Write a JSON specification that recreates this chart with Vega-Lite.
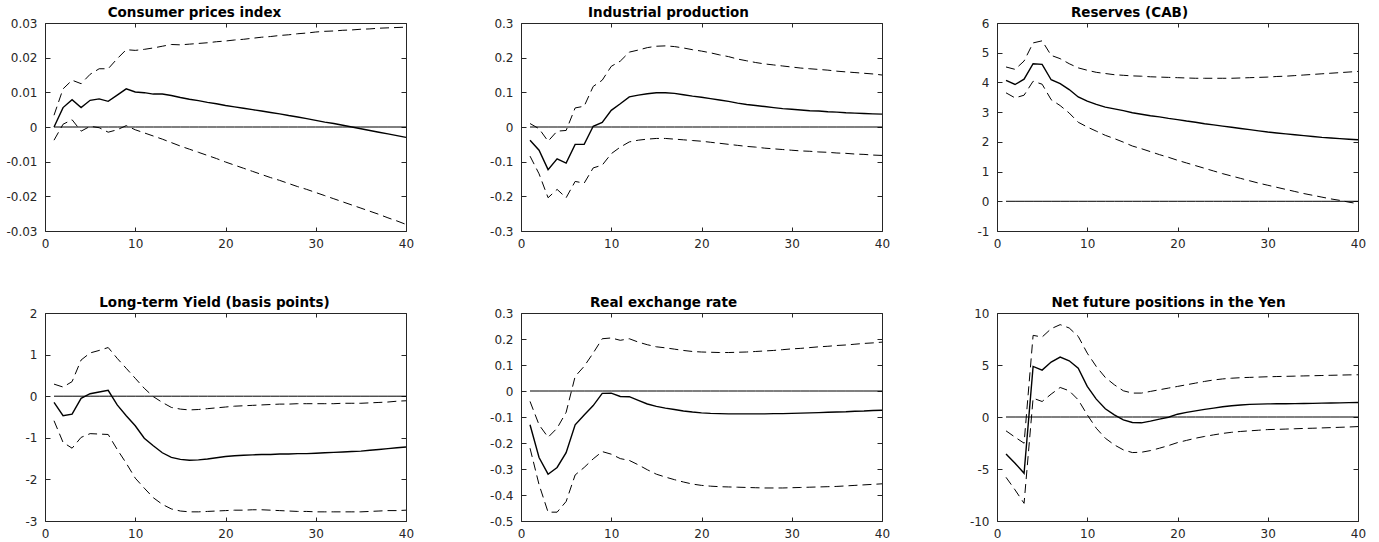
{
"$schema": "https://vega.github.io/schema/vega-lite/v6.json",
"background": "white",
"padding": {"left": 5, "top": 5, "right": 5, "bottom": 5},
"bounds": "flush",
"columns": 3,
"spacing": {"row": 82, "column": 115},
"config": {
  "font": "DejaVu Sans",
  "view": {"stroke": "#262626", "strokeWidth": 1},
  "axis": {"domain": false, "grid": false, "tickColor": "#262626", "labelColor": "#262626", "labelFont": "DejaVu Sans", "labelFontSize": 12, "tickWidth": 1, "labelFlush": false, "labelOverlap": false, "labelExpr": "replace(format(datum.value, '~g'), '\u2212', '-')"},
  "axisX": {"tickSize": -4, "labelPadding": 11},
  "axisY": {"tickSize": -5, "labelPadding": 13},
  "title": {"font": "DejaVu Sans", "fontSize": 13.5, "fontWeight": "bold", "color": "black", "offset": -2, "anchor": "middle"}
},
"datasets": {"irf": [
{"v":"cpi","h":1,"e":0,"lo":-0.0038,"hi":0.0034},
{"v":"cpi","h":2,"e":0.0056,"lo":0.0008,"hi":0.011},
{"v":"cpi","h":3,"e":0.0079,"lo":0.0021,"hi":0.0135},
{"v":"cpi","h":4,"e":0.0056,"lo":-0.0012,"hi":0.0125},
{"v":"cpi","h":5,"e":0.0077,"lo":0.0002,"hi":0.0152},
{"v":"cpi","h":6,"e":0.0081,"lo":-0.0002,"hi":0.0168},
{"v":"cpi","h":7,"e":0.0074,"lo":-0.0015,"hi":0.0168},
{"v":"cpi","h":8,"e":0.0092,"lo":-0.0008,"hi":0.0197},
{"v":"cpi","h":9,"e":0.011,"lo":0.0004,"hi":0.0223},
{"v":"cpi","h":10,"e":0.0101,"lo":-0.0008,"hi":0.0221},
{"v":"cpi","h":11,"e":0.0099,"lo":-0.0017,"hi":0.0224},
{"v":"cpi","h":12,"e":0.0095,"lo":-0.0026,"hi":0.0228},
{"v":"cpi","h":13,"e":0.0095,"lo":-0.0035,"hi":0.0233},
{"v":"cpi","h":14,"e":0.0091,"lo":-0.0045,"hi":0.0238},
{"v":"cpi","h":15,"e":0.0085,"lo":-0.0055,"hi":0.0237},
{"v":"cpi","h":16,"e":0.008,"lo":-0.0064,"hi":0.0239},
{"v":"cpi","h":17,"e":0.0076,"lo":-0.0073,"hi":0.0241},
{"v":"cpi","h":18,"e":0.0071,"lo":-0.0082,"hi":0.0243},
{"v":"cpi","h":19,"e":0.0067,"lo":-0.0091,"hi":0.0246},
{"v":"cpi","h":20,"e":0.0062,"lo":-0.0101,"hi":0.0248},
{"v":"cpi","h":21,"e":0.0058,"lo":-0.011,"hi":0.0251},
{"v":"cpi","h":22,"e":0.0054,"lo":-0.0119,"hi":0.0253},
{"v":"cpi","h":23,"e":0.005,"lo":-0.0128,"hi":0.0256},
{"v":"cpi","h":24,"e":0.0046,"lo":-0.0137,"hi":0.0259},
{"v":"cpi","h":25,"e":0.0042,"lo":-0.0146,"hi":0.0261},
{"v":"cpi","h":26,"e":0.0038,"lo":-0.0154,"hi":0.0264},
{"v":"cpi","h":27,"e":0.0033,"lo":-0.0163,"hi":0.0266},
{"v":"cpi","h":28,"e":0.0029,"lo":-0.0172,"hi":0.0269},
{"v":"cpi","h":29,"e":0.0024,"lo":-0.018,"hi":0.0271},
{"v":"cpi","h":30,"e":0.0019,"lo":-0.0189,"hi":0.0274},
{"v":"cpi","h":31,"e":0.0014,"lo":-0.0198,"hi":0.0276},
{"v":"cpi","h":32,"e":0.001,"lo":-0.0207,"hi":0.0277},
{"v":"cpi","h":33,"e":0.0005,"lo":-0.0216,"hi":0.0279},
{"v":"cpi","h":34,"e":0,"lo":-0.0225,"hi":0.028},
{"v":"cpi","h":35,"e":-0.0005,"lo":-0.0234,"hi":0.0282},
{"v":"cpi","h":36,"e":-0.001,"lo":-0.0243,"hi":0.0283},
{"v":"cpi","h":37,"e":-0.0015,"lo":-0.0252,"hi":0.0285},
{"v":"cpi","h":38,"e":-0.002,"lo":-0.0262,"hi":0.0286},
{"v":"cpi","h":39,"e":-0.0025,"lo":-0.0271,"hi":0.0287},
{"v":"cpi","h":40,"e":-0.003,"lo":-0.0281,"hi":0.0288},
{"v":"ip","h":1,"e":-0.038,"lo":-0.084,"hi":0.01},
{"v":"ip","h":2,"e":-0.067,"lo":-0.135,"hi":-0.005},
{"v":"ip","h":3,"e":-0.123,"lo":-0.204,"hi":-0.041},
{"v":"ip","h":4,"e":-0.092,"lo":-0.18,"hi":-0.012},
{"v":"ip","h":5,"e":-0.104,"lo":-0.204,"hi":-0.01},
{"v":"ip","h":6,"e":-0.05,"lo":-0.157,"hi":0.055},
{"v":"ip","h":7,"e":-0.05,"lo":-0.162,"hi":0.06},
{"v":"ip","h":8,"e":0.002,"lo":-0.118,"hi":0.117},
{"v":"ip","h":9,"e":0.013,"lo":-0.11,"hi":0.135},
{"v":"ip","h":10,"e":0.048,"lo":-0.077,"hi":0.175},
{"v":"ip","h":11,"e":0.067,"lo":-0.058,"hi":0.19},
{"v":"ip","h":12,"e":0.087,"lo":-0.043,"hi":0.216},
{"v":"ip","h":13,"e":0.092,"lo":-0.038,"hi":0.222},
{"v":"ip","h":14,"e":0.096,"lo":-0.035,"hi":0.229},
{"v":"ip","h":15,"e":0.099,"lo":-0.033,"hi":0.233},
{"v":"ip","h":16,"e":0.099,"lo":-0.033,"hi":0.234},
{"v":"ip","h":17,"e":0.097,"lo":-0.035,"hi":0.232},
{"v":"ip","h":18,"e":0.093,"lo":-0.037,"hi":0.228},
{"v":"ip","h":19,"e":0.089,"lo":-0.039,"hi":0.223},
{"v":"ip","h":20,"e":0.086,"lo":-0.041,"hi":0.219},
{"v":"ip","h":21,"e":0.082,"lo":-0.044,"hi":0.214},
{"v":"ip","h":22,"e":0.078,"lo":-0.047,"hi":0.208},
{"v":"ip","h":23,"e":0.074,"lo":-0.05,"hi":0.203},
{"v":"ip","h":24,"e":0.069,"lo":-0.053,"hi":0.196},
{"v":"ip","h":25,"e":0.065,"lo":-0.056,"hi":0.191},
{"v":"ip","h":26,"e":0.062,"lo":-0.058,"hi":0.186},
{"v":"ip","h":27,"e":0.059,"lo":-0.061,"hi":0.182},
{"v":"ip","h":28,"e":0.056,"lo":-0.063,"hi":0.179},
{"v":"ip","h":29,"e":0.053,"lo":-0.065,"hi":0.176},
{"v":"ip","h":30,"e":0.051,"lo":-0.067,"hi":0.173},
{"v":"ip","h":31,"e":0.049,"lo":-0.069,"hi":0.17},
{"v":"ip","h":32,"e":0.047,"lo":-0.07,"hi":0.168},
{"v":"ip","h":33,"e":0.046,"lo":-0.072,"hi":0.166},
{"v":"ip","h":34,"e":0.044,"lo":-0.073,"hi":0.164},
{"v":"ip","h":35,"e":0.043,"lo":-0.075,"hi":0.161},
{"v":"ip","h":36,"e":0.041,"lo":-0.076,"hi":0.159},
{"v":"ip","h":37,"e":0.04,"lo":-0.078,"hi":0.157},
{"v":"ip","h":38,"e":0.039,"lo":-0.079,"hi":0.155},
{"v":"ip","h":39,"e":0.038,"lo":-0.081,"hi":0.153},
{"v":"ip","h":40,"e":0.037,"lo":-0.082,"hi":0.15},
{"v":"res","h":1,"e":4.07,"lo":3.65,"hi":4.52},
{"v":"res","h":2,"e":3.93,"lo":3.48,"hi":4.44},
{"v":"res","h":3,"e":4.11,"lo":3.57,"hi":4.72},
{"v":"res","h":4,"e":4.63,"lo":4.04,"hi":5.33},
{"v":"res","h":5,"e":4.61,"lo":3.94,"hi":5.4},
{"v":"res","h":6,"e":4.09,"lo":3.42,"hi":4.91},
{"v":"res","h":7,"e":3.96,"lo":3.22,"hi":4.8},
{"v":"res","h":8,"e":3.76,"lo":2.97,"hi":4.63},
{"v":"res","h":9,"e":3.51,"lo":2.66,"hi":4.49},
{"v":"res","h":10,"e":3.37,"lo":2.5,"hi":4.41},
{"v":"res","h":11,"e":3.26,"lo":2.36,"hi":4.34},
{"v":"res","h":12,"e":3.17,"lo":2.22,"hi":4.3},
{"v":"res","h":13,"e":3.11,"lo":2.11,"hi":4.26},
{"v":"res","h":14,"e":3.05,"lo":1.99,"hi":4.24},
{"v":"res","h":15,"e":2.98,"lo":1.86,"hi":4.22},
{"v":"res","h":16,"e":2.93,"lo":1.77,"hi":4.21},
{"v":"res","h":17,"e":2.88,"lo":1.67,"hi":4.19},
{"v":"res","h":18,"e":2.84,"lo":1.57,"hi":4.18},
{"v":"res","h":19,"e":2.79,"lo":1.48,"hi":4.17},
{"v":"res","h":20,"e":2.75,"lo":1.38,"hi":4.16},
{"v":"res","h":21,"e":2.7,"lo":1.29,"hi":4.15},
{"v":"res","h":22,"e":2.66,"lo":1.2,"hi":4.14},
{"v":"res","h":23,"e":2.61,"lo":1.11,"hi":4.14},
{"v":"res","h":24,"e":2.57,"lo":1.02,"hi":4.14},
{"v":"res","h":25,"e":2.53,"lo":0.93,"hi":4.14},
{"v":"res","h":26,"e":2.49,"lo":0.85,"hi":4.14},
{"v":"res","h":27,"e":2.45,"lo":0.77,"hi":4.15},
{"v":"res","h":28,"e":2.41,"lo":0.69,"hi":4.16},
{"v":"res","h":29,"e":2.37,"lo":0.61,"hi":4.17},
{"v":"res","h":30,"e":2.33,"lo":0.54,"hi":4.18},
{"v":"res","h":31,"e":2.3,"lo":0.47,"hi":4.2},
{"v":"res","h":32,"e":2.27,"lo":0.4,"hi":4.21},
{"v":"res","h":33,"e":2.24,"lo":0.33,"hi":4.23},
{"v":"res","h":34,"e":2.21,"lo":0.26,"hi":4.25},
{"v":"res","h":35,"e":2.18,"lo":0.2,"hi":4.27},
{"v":"res","h":36,"e":2.15,"lo":0.14,"hi":4.29},
{"v":"res","h":37,"e":2.13,"lo":0.08,"hi":4.31},
{"v":"res","h":38,"e":2.11,"lo":0.03,"hi":4.33},
{"v":"res","h":39,"e":2.09,"lo":-0.03,"hi":4.35},
{"v":"res","h":40,"e":2.07,"lo":-0.08,"hi":4.37},
{"v":"lty","h":1,"e":-0.15,"lo":-0.59,"hi":0.29},
{"v":"lty","h":2,"e":-0.47,"lo":-1.11,"hi":0.22},
{"v":"lty","h":3,"e":-0.43,"lo":-1.25,"hi":0.35},
{"v":"lty","h":4,"e":-0.05,"lo":-0.99,"hi":0.87},
{"v":"lty","h":5,"e":0.06,"lo":-0.9,"hi":1.04},
{"v":"lty","h":6,"e":0.1,"lo":-0.91,"hi":1.1},
{"v":"lty","h":7,"e":0.14,"lo":-0.92,"hi":1.17},
{"v":"lty","h":8,"e":-0.21,"lo":-1.28,"hi":0.91},
{"v":"lty","h":9,"e":-0.47,"lo":-1.61,"hi":0.67},
{"v":"lty","h":10,"e":-0.71,"lo":-1.97,"hi":0.43},
{"v":"lty","h":11,"e":-1.01,"lo":-2.21,"hi":0.19},
{"v":"lty","h":12,"e":-1.19,"lo":-2.44,"hi":-0.01},
{"v":"lty","h":13,"e":-1.36,"lo":-2.6,"hi":-0.15},
{"v":"lty","h":14,"e":-1.47,"lo":-2.71,"hi":-0.27},
{"v":"lty","h":15,"e":-1.52,"lo":-2.76,"hi":-0.31},
{"v":"lty","h":16,"e":-1.54,"lo":-2.78,"hi":-0.33},
{"v":"lty","h":17,"e":-1.53,"lo":-2.78,"hi":-0.32},
{"v":"lty","h":18,"e":-1.51,"lo":-2.77,"hi":-0.3},
{"v":"lty","h":19,"e":-1.48,"lo":-2.76,"hi":-0.28},
{"v":"lty","h":20,"e":-1.45,"lo":-2.75,"hi":-0.26},
{"v":"lty","h":21,"e":-1.43,"lo":-2.74,"hi":-0.24},
{"v":"lty","h":22,"e":-1.42,"lo":-2.74,"hi":-0.23},
{"v":"lty","h":23,"e":-1.41,"lo":-2.73,"hi":-0.22},
{"v":"lty","h":24,"e":-1.4,"lo":-2.73,"hi":-0.21},
{"v":"lty","h":25,"e":-1.4,"lo":-2.74,"hi":-0.2},
{"v":"lty","h":26,"e":-1.39,"lo":-2.75,"hi":-0.19},
{"v":"lty","h":27,"e":-1.39,"lo":-2.76,"hi":-0.19},
{"v":"lty","h":28,"e":-1.38,"lo":-2.77,"hi":-0.18},
{"v":"lty","h":29,"e":-1.38,"lo":-2.77,"hi":-0.18},
{"v":"lty","h":30,"e":-1.37,"lo":-2.78,"hi":-0.18},
{"v":"lty","h":31,"e":-1.36,"lo":-2.78,"hi":-0.18},
{"v":"lty","h":32,"e":-1.35,"lo":-2.78,"hi":-0.18},
{"v":"lty","h":33,"e":-1.34,"lo":-2.78,"hi":-0.17},
{"v":"lty","h":34,"e":-1.33,"lo":-2.78,"hi":-0.17},
{"v":"lty","h":35,"e":-1.32,"lo":-2.78,"hi":-0.17},
{"v":"lty","h":36,"e":-1.3,"lo":-2.77,"hi":-0.16},
{"v":"lty","h":37,"e":-1.28,"lo":-2.76,"hi":-0.15},
{"v":"lty","h":38,"e":-1.26,"lo":-2.75,"hi":-0.14},
{"v":"lty","h":39,"e":-1.24,"lo":-2.75,"hi":-0.12},
{"v":"lty","h":40,"e":-1.22,"lo":-2.74,"hi":-0.11},
{"v":"rer","h":1,"e":-0.13,"lo":-0.22,"hi":-0.04},
{"v":"rer","h":2,"e":-0.256,"lo":-0.36,"hi":-0.13},
{"v":"rer","h":3,"e":-0.32,"lo":-0.466,"hi":-0.178},
{"v":"rer","h":4,"e":-0.294,"lo":-0.466,"hi":-0.143},
{"v":"rer","h":5,"e":-0.237,"lo":-0.425,"hi":-0.082},
{"v":"rer","h":6,"e":-0.13,"lo":-0.323,"hi":0.056},
{"v":"rer","h":7,"e":-0.092,"lo":-0.294,"hi":0.095},
{"v":"rer","h":8,"e":-0.056,"lo":-0.261,"hi":0.146},
{"v":"rer","h":9,"e":-0.009,"lo":-0.233,"hi":0.201},
{"v":"rer","h":10,"e":-0.008,"lo":-0.243,"hi":0.204},
{"v":"rer","h":11,"e":-0.021,"lo":-0.26,"hi":0.195},
{"v":"rer","h":12,"e":-0.022,"lo":-0.267,"hi":0.201},
{"v":"rer","h":13,"e":-0.036,"lo":-0.284,"hi":0.188},
{"v":"rer","h":14,"e":-0.05,"lo":-0.303,"hi":0.178},
{"v":"rer","h":15,"e":-0.059,"lo":-0.32,"hi":0.17},
{"v":"rer","h":16,"e":-0.066,"lo":-0.331,"hi":0.166},
{"v":"rer","h":17,"e":-0.071,"lo":-0.341,"hi":0.161},
{"v":"rer","h":18,"e":-0.077,"lo":-0.35,"hi":0.156},
{"v":"rer","h":19,"e":-0.081,"lo":-0.358,"hi":0.152},
{"v":"rer","h":20,"e":-0.084,"lo":-0.363,"hi":0.15},
{"v":"rer","h":21,"e":-0.086,"lo":-0.366,"hi":0.149},
{"v":"rer","h":22,"e":-0.087,"lo":-0.368,"hi":0.148},
{"v":"rer","h":23,"e":-0.088,"lo":-0.369,"hi":0.148},
{"v":"rer","h":24,"e":-0.088,"lo":-0.37,"hi":0.149},
{"v":"rer","h":25,"e":-0.088,"lo":-0.371,"hi":0.15},
{"v":"rer","h":26,"e":-0.088,"lo":-0.372,"hi":0.152},
{"v":"rer","h":27,"e":-0.088,"lo":-0.373,"hi":0.154},
{"v":"rer","h":28,"e":-0.087,"lo":-0.373,"hi":0.156},
{"v":"rer","h":29,"e":-0.087,"lo":-0.373,"hi":0.159},
{"v":"rer","h":30,"e":-0.086,"lo":-0.372,"hi":0.162},
{"v":"rer","h":31,"e":-0.085,"lo":-0.371,"hi":0.164},
{"v":"rer","h":32,"e":-0.084,"lo":-0.37,"hi":0.167},
{"v":"rer","h":33,"e":-0.083,"lo":-0.369,"hi":0.17},
{"v":"rer","h":34,"e":-0.082,"lo":-0.368,"hi":0.172},
{"v":"rer","h":35,"e":-0.081,"lo":-0.367,"hi":0.175},
{"v":"rer","h":36,"e":-0.08,"lo":-0.365,"hi":0.177},
{"v":"rer","h":37,"e":-0.078,"lo":-0.363,"hi":0.18},
{"v":"rer","h":38,"e":-0.077,"lo":-0.361,"hi":0.183},
{"v":"rer","h":39,"e":-0.075,"lo":-0.359,"hi":0.185},
{"v":"rer","h":40,"e":-0.074,"lo":-0.357,"hi":0.188},
{"v":"nfp","h":1,"e":-3.55,"lo":-5.8,"hi":-1.33},
{"v":"nfp","h":2,"e":-4.45,"lo":-7.01,"hi":-1.94},
{"v":"nfp","h":3,"e":-5.41,"lo":-8.3,"hi":-2.52},
{"v":"nfp","h":4,"e":4.86,"lo":1.81,"hi":7.85},
{"v":"nfp","h":5,"e":4.51,"lo":1.49,"hi":7.69},
{"v":"nfp","h":6,"e":5.28,"lo":2.2,"hi":8.49},
{"v":"nfp","h":7,"e":5.76,"lo":2.84,"hi":8.88},
{"v":"nfp","h":8,"e":5.41,"lo":2.52,"hi":8.56},
{"v":"nfp","h":9,"e":4.7,"lo":1.65,"hi":7.75},
{"v":"nfp","h":10,"e":2.94,"lo":0.21,"hi":6.14},
{"v":"nfp","h":11,"e":1.72,"lo":-1.08,"hi":4.86},
{"v":"nfp","h":12,"e":0.79,"lo":-2.04,"hi":3.8},
{"v":"nfp","h":13,"e":0.21,"lo":-2.68,"hi":3.1},
{"v":"nfp","h":14,"e":-0.27,"lo":-3.16,"hi":2.52},
{"v":"nfp","h":15,"e":-0.53,"lo":-3.42,"hi":2.3},
{"v":"nfp","h":16,"e":-0.56,"lo":-3.39,"hi":2.3},
{"v":"nfp","h":17,"e":-0.4,"lo":-3.23,"hi":2.46},
{"v":"nfp","h":18,"e":-0.21,"lo":-3.0,"hi":2.62},
{"v":"nfp","h":19,"e":-0.02,"lo":-2.75,"hi":2.78},
{"v":"nfp","h":20,"e":0.27,"lo":-2.46,"hi":2.94},
{"v":"nfp","h":21,"e":0.44,"lo":-2.25,"hi":3.1},
{"v":"nfp","h":22,"e":0.59,"lo":-2.04,"hi":3.26},
{"v":"nfp","h":23,"e":0.73,"lo":-1.87,"hi":3.42},
{"v":"nfp","h":24,"e":0.85,"lo":-1.72,"hi":3.56},
{"v":"nfp","h":25,"e":0.98,"lo":-1.58,"hi":3.66},
{"v":"nfp","h":26,"e":1.08,"lo":-1.47,"hi":3.73},
{"v":"nfp","h":27,"e":1.16,"lo":-1.39,"hi":3.78},
{"v":"nfp","h":28,"e":1.21,"lo":-1.33,"hi":3.81},
{"v":"nfp","h":29,"e":1.24,"lo":-1.27,"hi":3.84},
{"v":"nfp","h":30,"e":1.26,"lo":-1.21,"hi":3.87},
{"v":"nfp","h":31,"e":1.27,"lo":-1.19,"hi":3.89},
{"v":"nfp","h":32,"e":1.28,"lo":-1.16,"hi":3.91},
{"v":"nfp","h":33,"e":1.29,"lo":-1.13,"hi":3.93},
{"v":"nfp","h":34,"e":1.3,"lo":-1.1,"hi":3.95},
{"v":"nfp","h":35,"e":1.31,"lo":-1.08,"hi":3.97},
{"v":"nfp","h":36,"e":1.33,"lo":-1.05,"hi":3.99},
{"v":"nfp","h":37,"e":1.35,"lo":-1.02,"hi":4.01},
{"v":"nfp","h":38,"e":1.36,"lo":-0.99,"hi":4.03},
{"v":"nfp","h":39,"e":1.38,"lo":-0.96,"hi":4.05},
{"v":"nfp","h":40,"e":1.4,"lo":-0.92,"hi":4.06}
]},
"data": {"name": "irf"},
"concat": [
{"title": {"text": "Consumer prices index", "dx": -31}, "width": 361, "height": 208,
 "transform": [{"filter": "datum.v == 'cpi'"}],
 "layer": [
  {"mark": {"type": "line", "color": "black", "strokeWidth": 1},
   "encoding": {"x": {"field": "h", "type": "quantitative", "scale": {"domain": [0,40], "nice": false, "zero": false}, "axis": {"values": [0,10,20,30,40], "title": null}},
                "y": {"datum": 0, "type": "quantitative", "scale": {"domain": [-0.03,0.03], "nice": false, "zero": false}, "axis": {"values": [-0.03,-0.02,-0.01,0,0.01,0.02,0.03], "title": null}}}},
  {"mark": {"type": "line", "color": "black", "strokeWidth": 1, "strokeDash": [9,5]},
   "encoding": {"x": {"field": "h", "type": "quantitative", "scale": {"domain": [0,40], "nice": false, "zero": false}, "axis": {"orient": "top", "values": [0,10,20,30,40], "labels": false, "title": null}},
                "y": {"field": "hi", "type": "quantitative", "scale": {"domain": [-0.03,0.03], "nice": false, "zero": false}, "axis": {"orient": "right", "values": [-0.03,-0.02,-0.01,0,0.01,0.02,0.03], "labels": false, "title": null}}}},
  {"mark": {"type": "line", "color": "black", "strokeWidth": 1, "strokeDash": [9,5]},
   "encoding": {"x": {"field": "h", "type": "quantitative", "scale": {"domain": [0,40], "nice": false, "zero": false}, "axis": null},
                "y": {"field": "lo", "type": "quantitative", "scale": {"domain": [-0.03,0.03], "nice": false, "zero": false}, "axis": null}}},
  {"mark": {"type": "line", "color": "black", "strokeWidth": 1.4},
   "encoding": {"x": {"field": "h", "type": "quantitative", "scale": {"domain": [0,40], "nice": false, "zero": false}, "axis": null},
                "y": {"field": "e", "type": "quantitative", "scale": {"domain": [-0.03,0.03], "nice": false, "zero": false}, "axis": null}}}
 ],
 "resolve": {"axis": {"x": "independent", "y": "independent"}}
},
{"title": {"text": "Industrial production", "dx": -33}, "width": 361, "height": 208,
 "transform": [{"filter": "datum.v == 'ip'"}],
 "layer": [
  {"mark": {"type": "line", "color": "black", "strokeWidth": 1},
   "encoding": {"x": {"field": "h", "type": "quantitative", "scale": {"domain": [0,40], "nice": false, "zero": false}, "axis": {"values": [0,10,20,30,40], "title": null}},
                "y": {"datum": 0, "type": "quantitative", "scale": {"domain": [-0.3,0.3], "nice": false, "zero": false}, "axis": {"values": [-0.3,-0.2,-0.1,0,0.1,0.2,0.3], "title": null}}}},
  {"mark": {"type": "line", "color": "black", "strokeWidth": 1, "strokeDash": [9,5]},
   "encoding": {"x": {"field": "h", "type": "quantitative", "scale": {"domain": [0,40], "nice": false, "zero": false}, "axis": {"orient": "top", "values": [0,10,20,30,40], "labels": false, "title": null}},
                "y": {"field": "hi", "type": "quantitative", "scale": {"domain": [-0.3,0.3], "nice": false, "zero": false}, "axis": {"orient": "right", "values": [-0.3,-0.2,-0.1,0,0.1,0.2,0.3], "labels": false, "title": null}}}},
  {"mark": {"type": "line", "color": "black", "strokeWidth": 1, "strokeDash": [9,5]},
   "encoding": {"x": {"field": "h", "type": "quantitative", "scale": {"domain": [0,40], "nice": false, "zero": false}, "axis": null},
                "y": {"field": "lo", "type": "quantitative", "scale": {"domain": [-0.3,0.3], "nice": false, "zero": false}, "axis": null}}},
  {"mark": {"type": "line", "color": "black", "strokeWidth": 1.4},
   "encoding": {"x": {"field": "h", "type": "quantitative", "scale": {"domain": [0,40], "nice": false, "zero": false}, "axis": null},
                "y": {"field": "e", "type": "quantitative", "scale": {"domain": [-0.3,0.3], "nice": false, "zero": false}, "axis": null}}}
 ],
 "resolve": {"axis": {"x": "independent", "y": "independent"}}
},
{"title": {"text": "Reserves (CAB)", "dx": -48}, "width": 361, "height": 208,
 "transform": [{"filter": "datum.v == 'res'"}],
 "layer": [
  {"mark": {"type": "line", "color": "black", "strokeWidth": 1},
   "encoding": {"x": {"field": "h", "type": "quantitative", "scale": {"domain": [0,40], "nice": false, "zero": false}, "axis": {"values": [0,10,20,30,40], "title": null}},
                "y": {"datum": 0, "type": "quantitative", "scale": {"domain": [-1,6], "nice": false, "zero": false}, "axis": {"values": [-1,0,1,2,3,4,5,6], "title": null}}}},
  {"mark": {"type": "line", "color": "black", "strokeWidth": 1, "strokeDash": [9,5]},
   "encoding": {"x": {"field": "h", "type": "quantitative", "scale": {"domain": [0,40], "nice": false, "zero": false}, "axis": {"orient": "top", "values": [0,10,20,30,40], "labels": false, "title": null}},
                "y": {"field": "hi", "type": "quantitative", "scale": {"domain": [-1,6], "nice": false, "zero": false}, "axis": {"orient": "right", "values": [-1,0,1,2,3,4,5,6], "labels": false, "title": null}}}},
  {"mark": {"type": "line", "color": "black", "strokeWidth": 1, "strokeDash": [9,5]},
   "encoding": {"x": {"field": "h", "type": "quantitative", "scale": {"domain": [0,40], "nice": false, "zero": false}, "axis": null},
                "y": {"field": "lo", "type": "quantitative", "scale": {"domain": [-1,6], "nice": false, "zero": false}, "axis": null}}},
  {"mark": {"type": "line", "color": "black", "strokeWidth": 1.4},
   "encoding": {"x": {"field": "h", "type": "quantitative", "scale": {"domain": [0,40], "nice": false, "zero": false}, "axis": null},
                "y": {"field": "e", "type": "quantitative", "scale": {"domain": [-1,6], "nice": false, "zero": false}, "axis": null}}}
 ],
 "resolve": {"axis": {"x": "independent", "y": "independent"}}
},
{"title": {"text": "Long-term Yield (basis points)", "dx": -11}, "width": 361, "height": 208,
 "transform": [{"filter": "datum.v == 'lty'"}],
 "layer": [
  {"mark": {"type": "line", "color": "black", "strokeWidth": 1},
   "encoding": {"x": {"field": "h", "type": "quantitative", "scale": {"domain": [0,40], "nice": false, "zero": false}, "axis": {"values": [0,10,20,30,40], "title": null}},
                "y": {"datum": 0, "type": "quantitative", "scale": {"domain": [-3,2], "nice": false, "zero": false}, "axis": {"values": [-3,-2,-1,0,1,2], "title": null}}}},
  {"mark": {"type": "line", "color": "black", "strokeWidth": 1, "strokeDash": [9,5]},
   "encoding": {"x": {"field": "h", "type": "quantitative", "scale": {"domain": [0,40], "nice": false, "zero": false}, "axis": {"orient": "top", "values": [0,10,20,30,40], "labels": false, "title": null}},
                "y": {"field": "hi", "type": "quantitative", "scale": {"domain": [-3,2], "nice": false, "zero": false}, "axis": {"orient": "right", "values": [-3,-2,-1,0,1,2], "labels": false, "title": null}}}},
  {"mark": {"type": "line", "color": "black", "strokeWidth": 1, "strokeDash": [9,5]},
   "encoding": {"x": {"field": "h", "type": "quantitative", "scale": {"domain": [0,40], "nice": false, "zero": false}, "axis": null},
                "y": {"field": "lo", "type": "quantitative", "scale": {"domain": [-3,2], "nice": false, "zero": false}, "axis": null}}},
  {"mark": {"type": "line", "color": "black", "strokeWidth": 1.4},
   "encoding": {"x": {"field": "h", "type": "quantitative", "scale": {"domain": [0,40], "nice": false, "zero": false}, "axis": null},
                "y": {"field": "e", "type": "quantitative", "scale": {"domain": [-3,2], "nice": false, "zero": false}, "axis": null}}}
 ],
 "resolve": {"axis": {"x": "independent", "y": "independent"}}
},
{"title": {"text": "Real exchange rate", "dx": -38}, "width": 361, "height": 208,
 "transform": [{"filter": "datum.v == 'rer'"}],
 "layer": [
  {"mark": {"type": "line", "color": "black", "strokeWidth": 1},
   "encoding": {"x": {"field": "h", "type": "quantitative", "scale": {"domain": [0,40], "nice": false, "zero": false}, "axis": {"values": [0,10,20,30,40], "title": null}},
                "y": {"datum": 0, "type": "quantitative", "scale": {"domain": [-0.5,0.3], "nice": false, "zero": false}, "axis": {"values": [-0.5,-0.4,-0.3,-0.2,-0.1,0,0.1,0.2,0.3], "title": null}}}},
  {"mark": {"type": "line", "color": "black", "strokeWidth": 1, "strokeDash": [9,5]},
   "encoding": {"x": {"field": "h", "type": "quantitative", "scale": {"domain": [0,40], "nice": false, "zero": false}, "axis": {"orient": "top", "values": [0,10,20,30,40], "labels": false, "title": null}},
                "y": {"field": "hi", "type": "quantitative", "scale": {"domain": [-0.5,0.3], "nice": false, "zero": false}, "axis": {"orient": "right", "values": [-0.5,-0.4,-0.3,-0.2,-0.1,0,0.1,0.2,0.3], "labels": false, "title": null}}}},
  {"mark": {"type": "line", "color": "black", "strokeWidth": 1, "strokeDash": [9,5]},
   "encoding": {"x": {"field": "h", "type": "quantitative", "scale": {"domain": [0,40], "nice": false, "zero": false}, "axis": null},
                "y": {"field": "lo", "type": "quantitative", "scale": {"domain": [-0.5,0.3], "nice": false, "zero": false}, "axis": null}}},
  {"mark": {"type": "line", "color": "black", "strokeWidth": 1.4},
   "encoding": {"x": {"field": "h", "type": "quantitative", "scale": {"domain": [0,40], "nice": false, "zero": false}, "axis": null},
                "y": {"field": "e", "type": "quantitative", "scale": {"domain": [-0.5,0.3], "nice": false, "zero": false}, "axis": null}}}
 ],
 "resolve": {"axis": {"x": "independent", "y": "independent"}}
},
{"title": {"text": "Net future positions in the Yen", "dx": -9}, "width": 361, "height": 208,
 "transform": [{"filter": "datum.v == 'nfp'"}],
 "layer": [
  {"mark": {"type": "line", "color": "black", "strokeWidth": 1},
   "encoding": {"x": {"field": "h", "type": "quantitative", "scale": {"domain": [0,40], "nice": false, "zero": false}, "axis": {"values": [0,10,20,30,40], "title": null}},
                "y": {"datum": 0, "type": "quantitative", "scale": {"domain": [-10,10], "nice": false, "zero": false}, "axis": {"values": [-10,-5,0,5,10], "title": null}}}},
  {"mark": {"type": "line", "color": "black", "strokeWidth": 1, "strokeDash": [9,5]},
   "encoding": {"x": {"field": "h", "type": "quantitative", "scale": {"domain": [0,40], "nice": false, "zero": false}, "axis": {"orient": "top", "values": [0,10,20,30,40], "labels": false, "title": null}},
                "y": {"field": "hi", "type": "quantitative", "scale": {"domain": [-10,10], "nice": false, "zero": false}, "axis": {"orient": "right", "values": [-10,-5,0,5,10], "labels": false, "title": null}}}},
  {"mark": {"type": "line", "color": "black", "strokeWidth": 1, "strokeDash": [9,5]},
   "encoding": {"x": {"field": "h", "type": "quantitative", "scale": {"domain": [0,40], "nice": false, "zero": false}, "axis": null},
                "y": {"field": "lo", "type": "quantitative", "scale": {"domain": [-10,10], "nice": false, "zero": false}, "axis": null}}},
  {"mark": {"type": "line", "color": "black", "strokeWidth": 1.4},
   "encoding": {"x": {"field": "h", "type": "quantitative", "scale": {"domain": [0,40], "nice": false, "zero": false}, "axis": null},
                "y": {"field": "e", "type": "quantitative", "scale": {"domain": [-10,10], "nice": false, "zero": false}, "axis": null}}}
 ],
 "resolve": {"axis": {"x": "independent", "y": "independent"}}
}
]
}
